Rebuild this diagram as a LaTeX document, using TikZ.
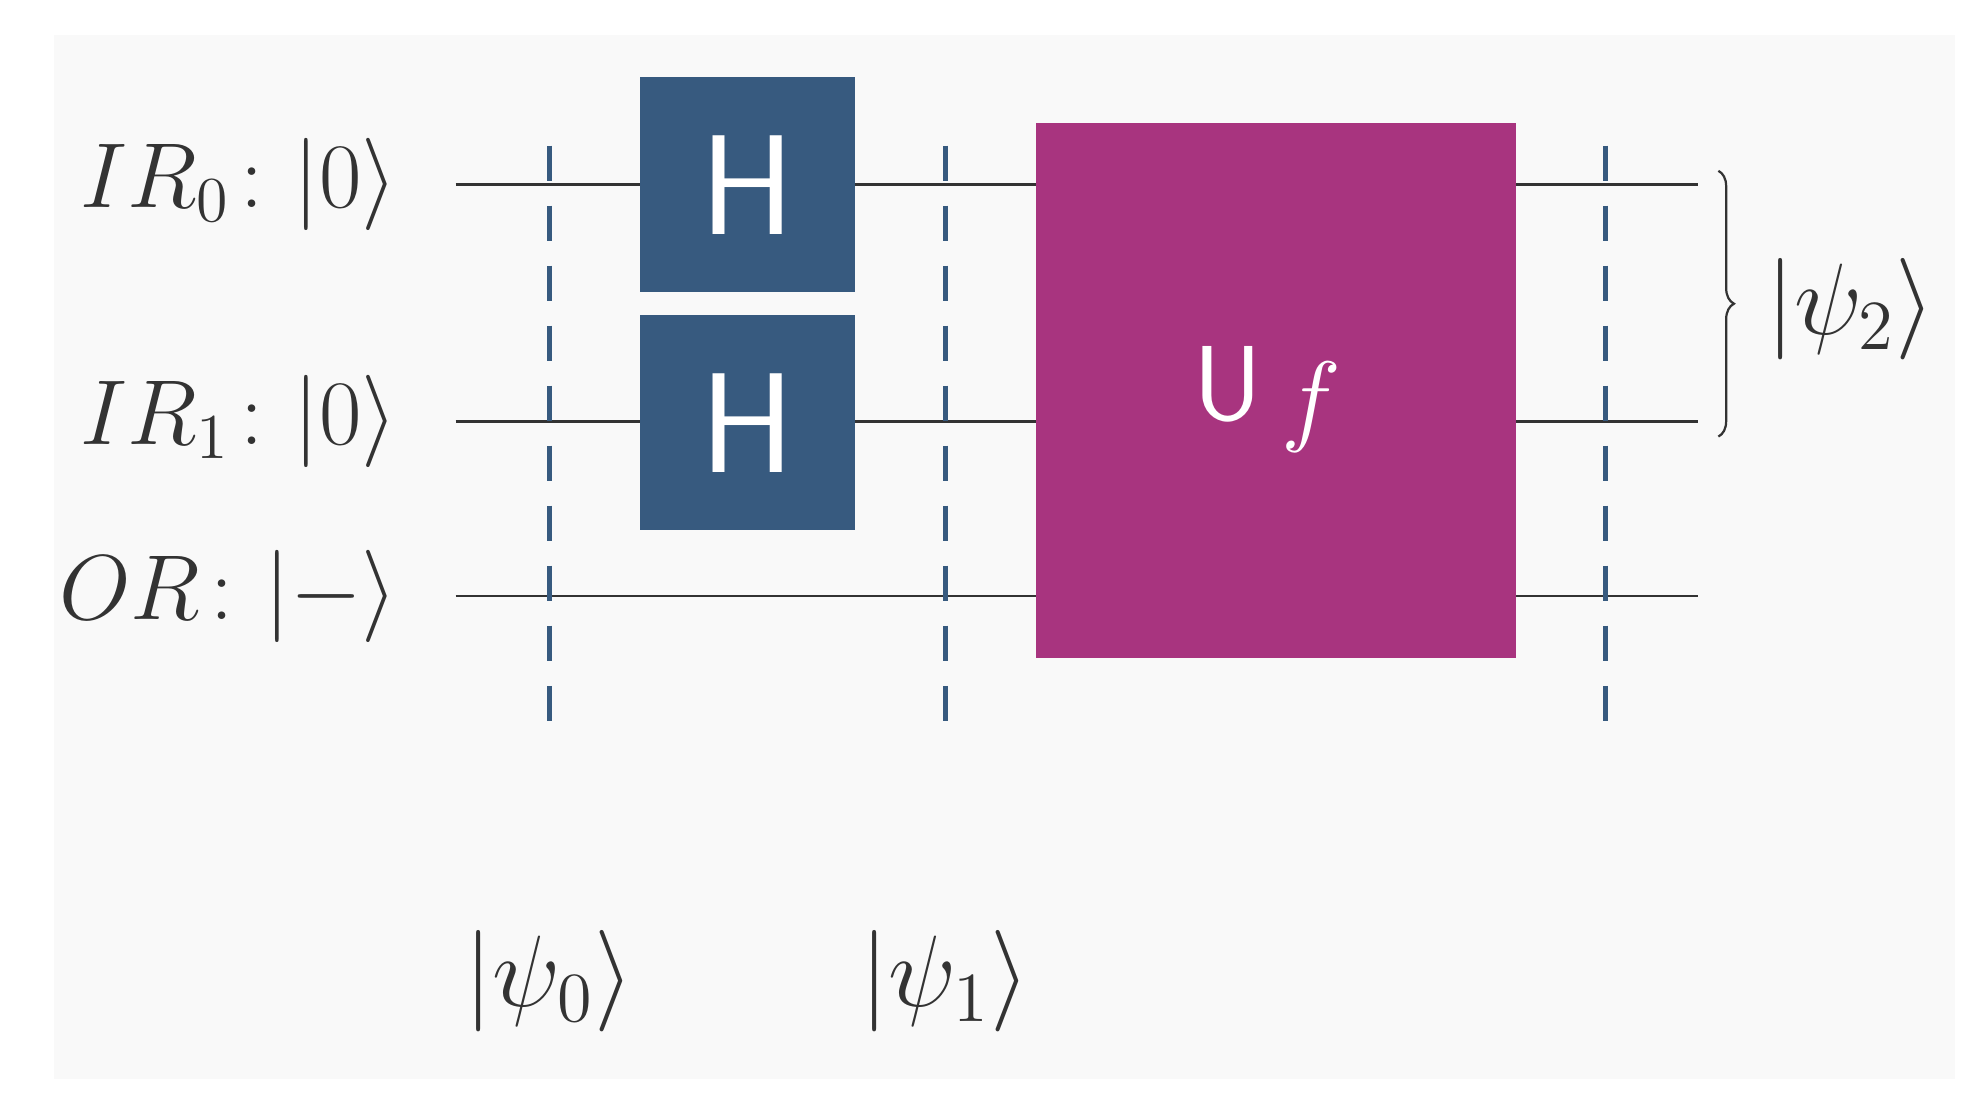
\documentclass[tikz,border=0pt]{standalone}
\usepackage{amsmath}
\usetikzlibrary{decorations.pathreplacing}
\definecolor{bg}{HTML}{F9F9F9}
\definecolor{wcol}{HTML}{333333}
\definecolor{gblue}{HTML}{375A7F}
\definecolor{gmag}{HTML}{A8347F}
\begin{document}
\begin{tikzpicture}[x=0.02cm,y=-0.02cm,
  wire/.style={wcol,line width=1.2pt},
  barrier/.style={gblue,line width=2.2pt,dash pattern=on 16pt off 11pt},
  gate/.style={fill=#1,draw=none,inner sep=0},
  gtext/.style={text=white,font=\fontsize{64}{70}\selectfont\sffamily,inner sep=0},
  lbl/.style={text=wcol,font=\fontsize{20}{24}\selectfont,inner sep=0,scale=2.2},
  ilbl/.style={lbl,scale=2.0/2.2}]
\useasboundingbox (0,0) rectangle (1560,877);
\fill[bg] (43,28) rectangle (1545,853);
% wires
\foreach \n/\y in {a/146,b/333,c/471}{
  \coordinate (s\n) at (360,\y); \coordinate (e\n) at (1342,\y);
  \draw[wire] (s\n) -- (e\n);}
% labels
\node[ilbl,anchor=east] (la) at (315,146) {$IR_0\colon|0\rangle$};
\node[ilbl,anchor=east] (lb) at (315,333) {$IR_1\colon|0\rangle$};
\node[ilbl,anchor=east] (lc) at (315,471) {$OR\colon|{-}\rangle$};
% barriers
\foreach \n/\x in {p/434,q/747,r/1269}{
  \coordinate (t\n) at (\x,115); \coordinate (b\n) at (\x,578);
  \draw[barrier] (t\n) -- (b\n);}
% gates
\node[gate=gblue,minimum width=3.4cm,minimum height=3.4cm] (h0) at (591,146) {};
\node[gtext] (h0t) at (h0) {H};
\node[gate=gblue,minimum width=3.4cm,minimum height=3.4cm] (h1) at (591,334) {};
\node[gtext] (h1t) at (h1) {H};
\node[gate=gmag,minimum width=7.58cm,minimum height=8.46cm] (uf) at (1008.5,308.5) {};
\node[text=white,font=\fontsize{48}{54}\selectfont\sffamily,inner sep=0,anchor=base east] (uu) at (998,332) {U};
\node[text=white,font=\fontsize{20}{24}\selectfont,scale=2.2,inner sep=0,anchor=base west] (ff) at (1012,342) {$f$};
% state labels
\node[lbl] (p0) at (434,775) {$|\psi_0\rangle$};
\node[lbl] (p1) at (747,775) {$|\psi_1\rangle$};
\coordinate (bt) at (1358,135); \coordinate (bb) at (1358,345);
\draw[wire,line width=1pt,decorate,decoration={brace,amplitude=7pt}] (bt) -- (bb);
\node[lbl,anchor=west] (p2) at (1395,244) {$|\psi_2\rangle$};
\end{tikzpicture}
\end{document}
